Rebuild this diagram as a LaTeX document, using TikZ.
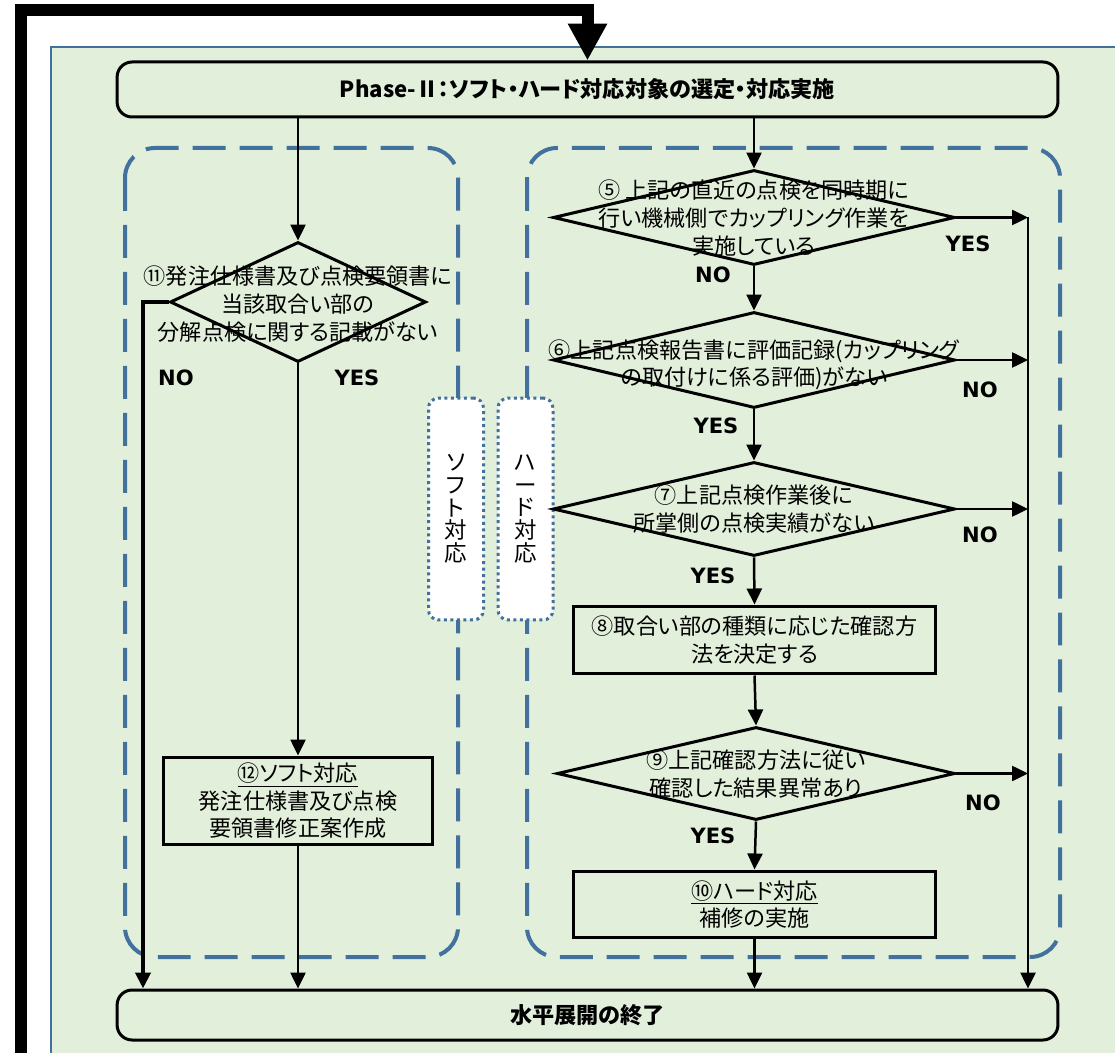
\documentclass[tikz,border=0pt]{standalone}
\usepackage{fontspec}
\setmainfont{Noto Sans CJK JP}[RawFeature={+palt}]
\newfontfamily\yesnofont{DejaVu Sans}
\usetikzlibrary{shapes.geometric,arrows.meta}
\definecolor{bggreen}{HTML}{E2EFDA}
\definecolor{frameblue}{HTML}{41719C}
\tikzset{
  decision/.style={diamond, draw, line width=0.06cm, inner sep=0pt},
  procbox/.style={rectangle, draw, line width=0.06cm, inner sep=0pt, align=center},
  phasebox/.style={rectangle, rounded corners=0.3cm, draw, line width=0.06cm, inner sep=0pt, font=\fontsize{12.6}{15.5}\selectfont\bfseries},
  flowtext/.style={align=center, inner sep=0pt},
  yesno/.style={font=\yesnofont\bfseries\fontsize{12}{13}\selectfont, inner sep=0pt},
  flow/.style={line width=0.05cm, -{Triangle[length=0.32cm,width=0.3cm]}},
  region/.style={draw=frameblue, line width=0.08cm, dash pattern=on 0.66cm off 0.28cm, rounded corners=0.6cm},
  sidetag/.style={draw=frameblue, fill=white, line width=0.06cm, dotted, rounded corners=0.2cm,
    minimum width=1.1cm, minimum height=4.44cm, align=center, font=\fontsize{12.8}{12.9}\selectfont},
}
\begin{document}
\begin{tikzpicture}[x=0.02cm, y=-0.02cm, font=\fontsize{12.6}{15.7}\selectfont]
    \useasboundingbox (0,0) rectangle (1115,1053);
    % Background panel
    \draw[frameblue, fill=bggreen, line width=0.04cm] (51,47) rectangle (1135,1075);

    % Dashed regions
    \draw[region] (125,148) rectangle (458,957);
    \draw[region] (527,148) rectangle (1060,957);

    % Side tags
    \node[sidetag] (soft) at (456,509) {ソ\\フ\\ト\\対\\応};
    \node[sidetag] (hard) at (525.5,509) {ハ\\ー\\ド\\対\\応};

    % Start and end
    \node[phasebox, minimum width=18.82cm, minimum height=1.1cm] (phase) at (587.5,89.5) {Phase-Ⅱ：ソフト・ハード対応対象の選定・対応実施};
    \node[phasebox, minimum width=18.82cm, minimum height=1.0cm] (fin) at (587.5,1015) {水平展開の終了};

    % Software branch
    \node[decision, minimum width=5.12cm, minimum height=2.4cm] (d11) at (298,302) {};
    \node[flowtext] (t11) at (298,304) {⑪発注仕様書及び点検要領書に\\当該取合い部の\\分解点検に関する記載がない};
    \node[procbox, minimum width=5.4cm, minimum height=1.76cm] (b12) at (298,801) {\underline{⑫ソフト対応}\\発注仕様書及び点検\\要領書修正案作成};
    \node[yesno] (no11) at (176,378) {NO};
    \node[yesno] (yes11) at (357,378) {YES};

    % Hardware branch
    \node[decision, minimum width=8.04cm, minimum height=1.9cm] (d5) at (754,217.5) {};
    \node[flowtext] (t5) at (754,218) {⑤ 上記の直近の点検を同時期に\\行い機械側でカップリング作業を\\実施している};
    \node[decision, minimum width=8.04cm, minimum height=1.92cm] (d6) at (754,360) {};
    \node[flowtext] (t6) at (754,365) {⑥上記点検報告書に評価記録(カップリング\\の取付けに係る評価)がない};
    \node[decision, minimum width=8.04cm, minimum height=1.88cm] (d7) at (754,509) {};
    \node[flowtext] (t7) at (754,509) {⑦上記点検作業後に\\所掌側の点検実績がない};
    \node[procbox, minimum width=7.26cm, minimum height=1.36cm] (b8) at (754.5,640) {⑧取合い部の種類に応じた確認方\\法を決定する};
    \node[decision, minimum width=7.96cm, minimum height=1.86cm] (d9) at (756,773.5) {};
    \node[flowtext] (t9) at (756,774) {⑨上記確認方法に従い\\確認した結果異常あり};
    \node[procbox, minimum width=7.26cm, minimum height=1.34cm] (b10) at (754.5,904.5) {\underline{⑩ハード対応}\\補修の実施};

    \node[yesno] (yes5) at (968,244) {YES};
    \node[yesno] (no5) at (713,275) {NO};
    \node[yesno] (no6) at (980,390) {NO};
    \node[yesno] (yes6) at (716,426) {YES};
    \node[yesno] (no7) at (980,535) {NO};
    \node[yesno] (yes7) at (713,576) {YES};
    \node[yesno] (no9) at (983,803) {NO};
    \node[yesno] (yes9) at (713,836) {YES};

    % Connectors, software side
    \coordinate (nolane) at (143,302);
    \draw[flow] (d11.north |- phase.south) -- (d11.north);
    \draw[flow] (d11.south) -- (b12.north);
    \draw[flow] (b12.south) -- (b12.south |- fin.north);
    \draw[flow, line width=0.08cm] (d11.west) -| (fin.north -| nolane);

    % Connectors, hardware side
    \coordinate (lane) at (1028,217.5);
    \draw[flow] (d5.north |- phase.south) -- (d5.north);
    \draw[flow] (d5.south) -- (d6.north);
    \draw[flow] (d6.south) -- (d7.north);
    \draw[flow] (d7.south) -- (b8.north);
    \draw[flow] (b8.south) -- (d9.north);
    \draw[flow] (d9.south) -- (b10.north);
    \draw[flow] (b10.south) -- (b10.south |- fin.north);
    \draw[flow] (d5.east) -- (d5.east -| lane);
    \draw[flow] (d6.east) -- (d6.east -| lane);
    \draw[flow] (d7.east) -- (d7.east -| lane);
    \draw[flow] (d9.east) -- (d9.east -| lane);
    \draw[flow] (lane) -- (fin.north -| lane);

    % Return loop
    \coordinate (loopin) at (21,1075);
    \coordinate (looptop) at (21,10);
    \draw[line width=0.24cm, -{Triangle[length=0.74cm,width=0.74cm]}] (loopin) -- (looptop) -| (phase.north);
\end{tikzpicture}
\end{document}
